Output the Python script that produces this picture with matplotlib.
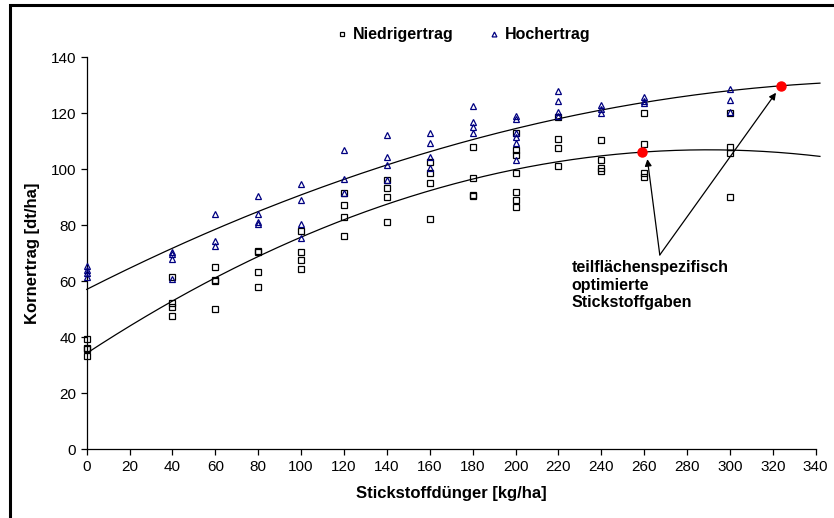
import matplotlib
matplotlib.use("Agg")
import matplotlib.pyplot as plt
import numpy as np
from matplotlib.patches import Rectangle

plt.rcParams['font.family'] = ['Liberation Sans', 'DejaVu Sans']

# Niedrigertrag (low yield zones)
low_x = [0, 0, 0, 0,
         40, 40, 40, 40,
         60, 60, 60, 60,
         80, 80, 80, 80,
         100, 100, 100, 100,
         120, 120, 120, 120,
         140, 140, 140, 140,
         160, 160, 160, 160,
         180, 180, 180, 180,
         200, 200, 200, 200, 200, 200, 200,
         220, 220, 220, 220,
         240, 240, 240, 240,
         260, 260, 260, 260,
         300, 300, 300, 300]
low_y = [39.5, 36.2, 35.9, 33.3,
         61.4, 52.4, 50.7, 47.6,
         65.0, 60.5, 60.2, 50.0,
         70.9, 70.5, 63.4, 57.8,
         77.8, 70.6, 67.6, 64.3,
         91.6, 87.1, 82.9, 76.3,
         96.2, 93.4, 90.2, 81.2,
         102.5, 98.8, 95.0, 82.1,
         108.1, 96.8, 90.8, 90.4,
         112.9, 106.9, 105.1, 98.8, 92.0, 89.0, 86.6,
         118.8, 110.7, 107.5, 101.3,
         110.5, 103.3, 100.4, 99.2,
         120.0, 109.0, 98.8, 97.1,
         120.2, 107.8, 105.7, 90.0]

# Hochertrag (high yield zones)
high_x = [0, 0, 0, 0,
          40, 40, 40, 40,
          60, 60, 60,
          80, 80, 80, 80,
          100, 100, 100, 100,
          120, 120, 120,
          140, 140, 140, 140,
          160, 160, 160, 160,
          180, 180, 180, 180,
          200, 200, 200, 200, 200, 200,
          220, 220, 220, 220,
          240, 240, 240,
          260, 260, 260,
          300, 300, 300]
high_y = [65.5, 64.0, 62.9, 61.4,
          70.6, 69.8, 67.8, 60.7,
          84.0, 74.5, 72.6,
          90.5, 84.0, 81.0, 80.5,
          94.9, 89.0, 80.6, 75.4,
          107.0, 96.5, 91.6,
          112.3, 104.3, 101.5, 96.2,
          113.1, 109.5, 104.2, 100.6,
          122.4, 116.7, 115.0, 112.9,
          119.1, 117.9, 112.9, 111.5, 109.3, 103.3,
          128.1, 124.2, 120.6, 119.0,
          123.0, 121.5, 120.2,
          125.7, 124.5, 123.6,
          128.6, 124.8, 120.6]

# quadratic response curves (intercept, linear, quadratic)
low_fit = [34.3, 0.501, -0.000864]
high_fit = [57.1, 0.388, -0.000505]

# optimised nitrogen rates
opt_x = [259, 324]

fig = plt.figure(figsize=(8.34, 5.18), dpi=100)
ax = fig.add_axes([0.104, 0.1326, 0.874, 0.757])

xx = np.linspace(0, 342, 300)
for a, b, c in (low_fit, high_fit):
    ax.plot(xx, a + b * xx + c * xx ** 2, color='black', lw=0.9, zorder=2,
            clip_on=False)

ax.plot(low_x, low_y, ls='none', marker='s', ms=5, mfc='none', mec='black',
        mew=0.9, label='Niedrigertrag', zorder=3, clip_on=False)
ax.plot(high_x, high_y, ls='none', marker='^', ms=5, mfc='none', mec='#000080',
        mew=0.9, label='Hochertrag', zorder=3, clip_on=False)

opt_y = [low_fit[0] + low_fit[1] * opt_x[0] + low_fit[2] * opt_x[0] ** 2,
         high_fit[0] + high_fit[1] * opt_x[1] + high_fit[2] * opt_x[1] ** 2]
ax.plot(opt_x, opt_y, ls='none', marker='o', ms=6.5, color='red', zorder=4)

for px, py in zip(opt_x, opt_y):
    ax.annotate('', xy=(px + 2.5 if px < 300 else px - 2.5, py - 2.5),
                xytext=(267.3, 69.4),
                arrowprops=dict(arrowstyle='-|>', color='black', lw=0.9,
                                mutation_scale=10, shrinkA=0, shrinkB=0))

ax.text(226, 67.5, 'teilflächenspezifisch\noptimierte\nStickstoffgaben',
        fontsize=11.5, fontweight='bold', va='top', ha='left', linespacing=1.2)

ax.set_xlim(0, 340)
ax.set_ylim(0, 140)
ax.set_xticks(np.arange(0, 341, 20))
ax.set_yticks(np.arange(0, 141, 20))
ax.spines['top'].set_visible(False)
ax.spines['right'].set_visible(False)
ax.tick_params(direction='out', length=4, width=0.9, labelsize=11)
for s in ('left', 'bottom'):
    ax.spines[s].set_linewidth(0.9)
ax.set_xlabel('Stickstoffdünger [kg/ha]', fontsize=12, fontweight='bold', labelpad=9)
ax.set_ylabel('Kornertrag [dt/ha]', fontsize=12, fontweight='bold', labelpad=8)

leg = fig.legend(loc='center', bbox_to_anchor=(0.556, 0.933), ncol=2, frameon=False,
                 prop={'weight': 'bold', 'size': 11.5}, markerscale=0.7,
                 handlelength=0.6, handletextpad=0.4, columnspacing=2.2)

fig.patches.append(Rectangle((10 / 834, -0.1), 1.2, 1.1 - 5 / 518,
                             transform=fig.transFigure, fill=False,
                             edgecolor='black', lw=2.2))

fig.savefig('out.png', dpi=100)
